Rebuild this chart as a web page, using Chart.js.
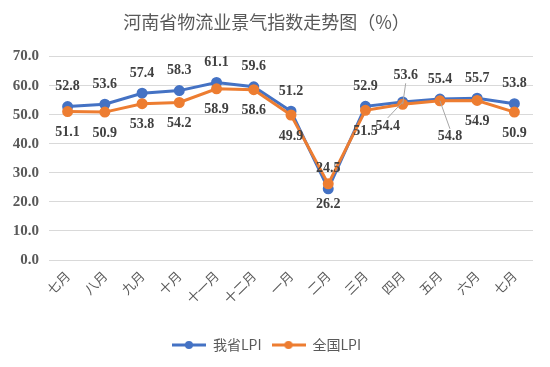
<!DOCTYPE html>
<html>
<head>
<meta charset="utf-8">
<script src="https://cdn.jsdelivr.net/npm/chart.js@4.4.0/dist/chart.umd.min.js"></script>
<style>
  html, body { margin: 0; padding: 0; background: #fff; }
  #wrap { width: 550px; height: 367px; }
</style>
</head>
<body>
<div id="wrap"><canvas id="myChart"></canvas></div>
<script>
// 数据
const months = ['七月', '八月', '九月', '十月', '十一月', '十二月', '一月', '二月', '三月', '四月', '五月', '六月', '七月'];
const henanLPI = [52.8, 53.6, 57.4, 58.3, 61.1, 59.6, 51.2, 24.5, 52.9, 54.4, 55.4, 55.7, 53.8];
const nationalLPI = [51.1, 50.9, 53.8, 54.2, 58.9, 58.6, 49.9, 26.2, 51.5, 53.6, 54.8, 54.9, 50.9];
const yTicks = [0, 10, 20, 30, 40, 50, 60, 70];

const BLUE = '#4472C4';
const ORANGE = '#ED7D31';

// 图例用的小图标（线 + 圆点）
function legendIcon(color) {
  const c = document.createElement('canvas');
  c.width = 34; c.height = 10;
  const g = c.getContext('2d');
  g.strokeStyle = color;
  g.lineWidth = 3;
  g.beginPath(); g.moveTo(0, 5); g.lineTo(34, 5); g.stroke();
  g.fillStyle = color;
  g.beginPath(); g.arc(17, 5, 4, 0, Math.PI * 2); g.fill();
  return c;
}

// 数据标签的偏移（默认：蓝在上，橙在下）
const labelShift = {
  '0:9': [-15, 24],
  '1:9': [3, -29],
  '1:10': [10, 36]
};

const dataLabels = {
  id: 'dataLabels',
  afterDatasetsDraw(chart) {
    const ctx = chart.ctx;
    ctx.save();
    ctx.font = 'bold 14px "Liberation Serif", serif';
    ctx.fillStyle = '#404040';
    ctx.textAlign = 'center';
    ctx.textBaseline = 'middle';
    chart.data.datasets.forEach((ds, di) => {
      const meta = chart.getDatasetMeta(di);
      meta.data.forEach((pt, i) => {
        const key = di + ':' + i;
        let dx = 0, dy = di === 0 ? -20 : 21;
        if (labelShift[key]) {
          dx = labelShift[key][0];
          dy = labelShift[key][1];
          // 引导线
          ctx.strokeStyle = '#a6a6a6';
          ctx.lineWidth = 1;
          ctx.beginPath();
          ctx.moveTo(pt.x + dx, pt.y + dy + (dy > 0 ? -8 : 8));
          ctx.lineTo(pt.x, pt.y);
          ctx.stroke();
        }
        ctx.fillText(ds.data[i].toFixed(1), pt.x + dx, pt.y + dy);
      });
    });
    ctx.restore();
  }
};

const data = {
  labels: months,
  datasets: [
    {
      label: '我省LPI',
      data: henanLPI,
      borderColor: BLUE,
      backgroundColor: BLUE,
      borderWidth: 3,
      pointRadius: 4,
      pointHoverRadius: 4,
      tension: 0,
      order: 1
    },
    {
      label: '全国LPI',
      data: nationalLPI,
      borderColor: ORANGE,
      backgroundColor: ORANGE,
      borderWidth: 3,
      pointRadius: 4,
      pointHoverRadius: 4,
      tension: 0,
      order: 0
    }
  ]
};

const config = {
  type: 'line',
  data: data,
  plugins: [dataLabels],
  options: {
    responsive: true,
    maintainAspectRatio: false,
    animation: false,
    layout: { padding: { top: 1, right: 17, bottom: 5, left: 0 } },
    plugins: {
      tooltip: { enabled: false },
      title: {
        display: true,
        text: '河南省物流业景气指数走势图（%）',
        color: '#595959',
        font: { family: '"Noto Sans CJK SC", sans-serif', size: 18, weight: 'normal' },
        padding: { top: 10, bottom: 24 }
      },
      legend: {
        position: 'bottom',
        labels: {
          usePointStyle: true,
          pointStyleWidth: 34,
          color: '#595959',
          font: { family: '"Noto Sans CJK SC", sans-serif', size: 14 },
          padding: 10,
          generateLabels(chart) {
            return chart.data.datasets.map((ds, i) => ({
              text: ds.label,
              pointStyle: legendIcon(ds.borderColor),
              fillStyle: ds.borderColor,
              strokeStyle: ds.borderColor,
              lineWidth: 0,
              fontColor: '#595959',
              hidden: false,
              datasetIndex: i
            }));
          }
        }
      }
    },
    scales: {
      x: {
        offset: true,
        grid: { display: false, drawTicks: false },
        border: { display: false },
        ticks: {
          color: '#595959',
          font: { family: '"Noto Sans CJK SC", sans-serif', size: 13 },
          minRotation: 45,
          maxRotation: 45,
          autoSkip: false,
          padding: 8
        },
        afterFit(scale) { scale.height = 68; }
      },
      y: {
        min: 0,
        max: 70,
        afterBuildTicks(scale) { scale.ticks = yTicks.map(v => ({ value: v })); },
        grid: { color: '#d9d9d9', lineWidth: 1, drawTicks: false },
        border: { display: false },
        ticks: {
          color: '#595959',
          font: { family: '"Liberation Serif", serif', size: 15, weight: 'bold' },
          padding: 10,
          callback: v => v.toFixed(1)
        },
        afterFit(scale) { scale.width = 49; }
      }
    }
  }
};

const ctx = document.getElementById('myChart').getContext('2d');
new Chart(ctx, config);
</script>
</body>
</html>
